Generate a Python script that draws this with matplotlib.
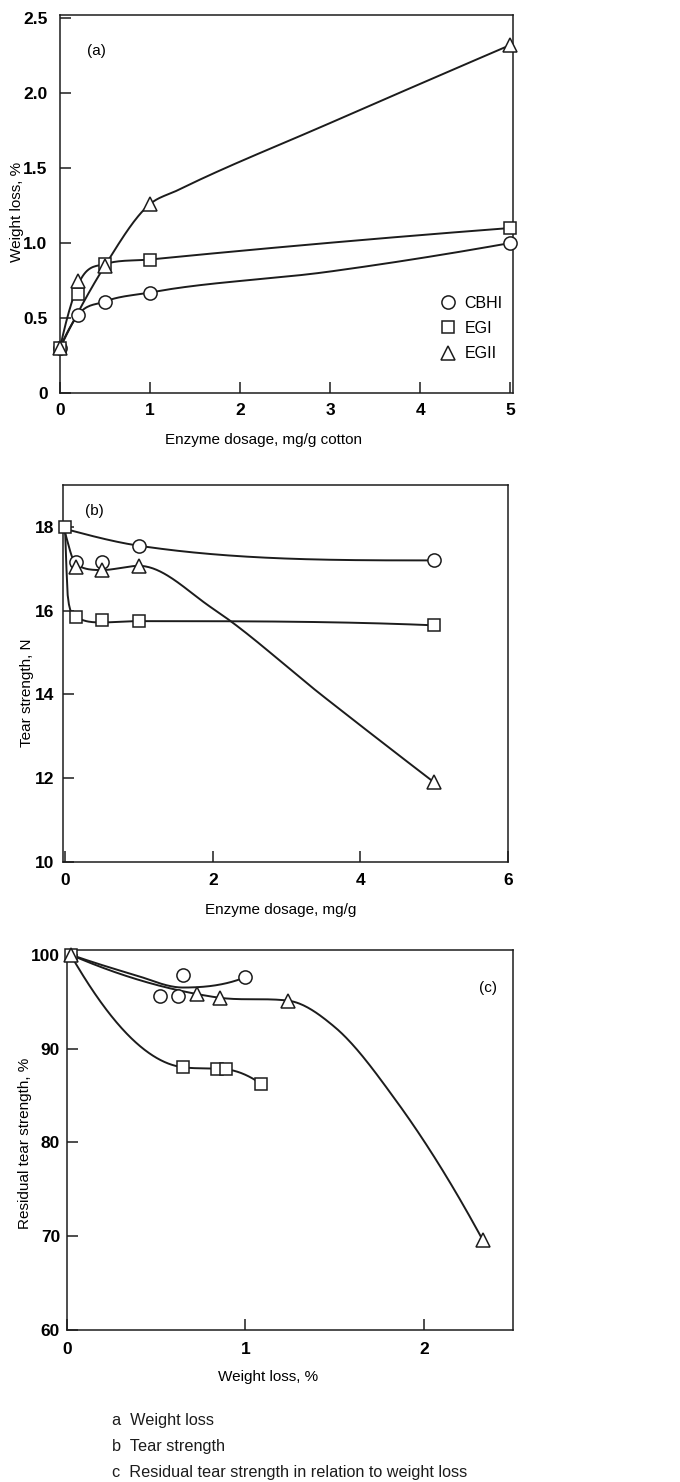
#import used libraries
import numpy as np
from matplotlib import pyplot as plt
from matplotlib.lines import Line2D

plt.rcParams['font.family'] = ['Liberation Sans', 'DejaVu Sans']

#(a) weight loss against enzyme dosage, markers
dose_a = [0, 0.2, 0.5, 1, 5]
wl_cbhi = [0.30, 0.52, 0.61, 0.67, 1.00]
wl_egi = [0.30, 0.66, 0.86, 0.89, 1.10]
wl_egii = [0.30, 0.75, 0.85, 1.26, 2.32]
#(a) points the drawn curves go through
a_cbhi_line_x = [0, 0.2, 0.5, 1, 3, 5]
a_cbhi_line_y = [0.30, 0.52, 0.61, 0.67, 0.81, 1.00]
a_egi_line_x = [0, 0.2, 0.5, 1, 5]
a_egi_line_y = [0.30, 0.72, 0.86, 0.89, 1.10]
a_egii_line_x = [0, 0.5, 1, 1.3, 3, 5]
a_egii_line_y = [0.30, 0.85, 1.26, 1.35, 1.80, 2.32]

#(b) tear strength against enzyme dosage, markers
b_cbhi_x = [0.15, 0.5, 1, 5]
b_cbhi_y = [17.15, 17.15, 17.55, 17.2]
b_egi_x = [0, 0.15, 0.5, 1, 5]
b_egi_y = [18.0, 15.85, 15.78, 15.75, 15.65]
b_egii_x = [0.15, 0.5, 1, 5]
b_egii_y = [17.05, 16.97, 17.07, 11.9]
#(b) curves
b_cbhi_line_x = [0, 1, 5]
b_cbhi_line_y = [17.95, 17.55, 17.2]
b_egi_line_x = [0, 0.04, 0.15, 0.5, 1, 5]
b_egi_line_y = [17.85, 16.25, 15.85, 15.72, 15.75, 15.65]
b_egii_line_x = [0, 0.15, 0.5, 1, 2, 3.5, 5]
b_egii_line_y = [17.85, 17.1, 16.97, 17.07, 16.05, 13.95, 11.9]

#(c) residual tear strength against weight loss, markers
c_cbhi_x = [0.52, 0.62, 0.65, 1.0]
c_cbhi_y = [95.6, 95.6, 97.8, 97.6]
c_egi_x = [0.02, 0.65, 0.84, 0.89, 1.09]
c_egi_y = [100, 88.0, 87.8, 87.8, 86.2]
c_egii_x = [0.02, 0.73, 0.86, 1.24, 2.33]
c_egii_y = [100, 95.8, 95.4, 95.1, 69.6]
#(c) curves
c_cbhi_line_x = [0.02, 0.37, 0.65, 1.0]
c_cbhi_line_y = [100, 97.9, 96.5, 97.6]
c_egi_line_x = [0.02, 0.65, 0.84, 0.89, 1.09]
c_egi_line_y = [100, 88.0, 87.85, 87.8, 86.2]
c_egii_line_x = [0.02, 0.73, 0.86, 1.24, 1.5, 1.85, 2.33]
c_egii_line_y = [100, 95.8, 95.4, 95.1, 92.3, 84.3, 69.6]

enzymes = ['CBHI', 'EGI', 'EGII']
captions = ['a  Weight loss', 'b  Tear strength',
            'c  Residual tear strength in relation to weight loss']

INK = '#1c1c1c'
MARK = {'CBHI': ('o', 9.5), 'EGI': ('s', 9.0), 'EGII': ('^', 10.5)}
LABEL_SIZE = 11


#smooth cubic curve through the given points (parabolic slopes, kept monotone)
def smooth(x, y, n=300):
    x = np.asarray(x, float)
    y = np.asarray(y, float)
    h = np.diff(x)
    d = np.diff(y) / h
    m = np.zeros_like(y)
    m[0], m[-1] = d[0], d[-1]
    for k in range(1, len(x) - 1):
        if d[k - 1] * d[k] > 0:
            p = (h[k] * d[k - 1] + h[k - 1] * d[k]) / (h[k - 1] + h[k])
            lim = 3 * min(abs(d[k - 1]), abs(d[k]))
            m[k] = np.sign(p) * min(abs(p), lim)
    #end slopes from the first and last three points
    if len(x) > 2:
        for i, (h0, h1, d0, d1) in ((0, (h[0], h[1], d[0], d[1])), (-1, (h[-1], h[-2], d[-1], d[-2]))):
            e = ((2 * h0 + h1) * d0 - h0 * d1) / (h0 + h1)
            if np.sign(e) != np.sign(d0):
                e = 0
            elif abs(e) > abs(3 * d0):
                e = 3 * d0
            m[i] = e
    xs = np.linspace(x[0], x[-1], n)
    k = np.clip(np.searchsorted(x, xs) - 1, 0, len(x) - 2)
    t = (xs - x[k]) / h[k]
    ys = ((2 * t**3 - 3 * t**2 + 1) * y[k] + (t**3 - 2 * t**2 + t) * h[k] * m[k]
          + (-2 * t**3 + 3 * t**2) * y[k + 1] + (t**3 - t**2) * h[k] * m[k + 1])
    return xs, ys


def draw(ax, line_x, line_y, px, py, name):
    xs, ys = smooth(line_x, line_y)
    ax.plot(xs, ys, '-', color=INK, lw=1.4, zorder=2)
    mk, ms = MARK[name]
    ax.plot(px, py, mk, ms=ms, mfc='white', mec=INK, mew=1.1, ls='none', zorder=3, clip_on=False)


def style(ax, xpad, ypad):
    ax.tick_params(direction='in', length=8, width=1.1, labelsize=12.5, color=INK)
    ax.tick_params(axis='x', pad=xpad)
    ax.tick_params(axis='y', pad=ypad)
    for lab in ax.get_xticklabels() + ax.get_yticklabels():
        lab.set_fontweight('bold')
    for sp in ax.spines.values():
        sp.set_linewidth(1.1)
        sp.set_color(INK)


W, H = 680, 1482
fig = plt.figure(figsize=(W / 100, H / 100), dpi=100)


def box(left, top, right, bottom):
    return fig.add_axes([left / W, 1 - bottom / H, (right - left) / W, (bottom - top) / H])


#panel (a)
ax = box(60, 15, 513, 393)
draw(ax, a_cbhi_line_x, a_cbhi_line_y, dose_a, wl_cbhi, 'CBHI')
draw(ax, a_egi_line_x, a_egi_line_y, dose_a, wl_egi, 'EGI')
draw(ax, a_egii_line_x, a_egii_line_y, dose_a, wl_egii, 'EGII')
ax.set_xlim(0, 5.03)
ax.set_ylim(0, 2.52)
ax.set_xticks([0, 1, 2, 3, 4, 5])
ax.set_yticks([0, 0.5, 1.0, 1.5, 2.0, 2.5])
ax.set_yticklabels(['0', '0.5', '1.0', '1.5', '2.0', '2.5'])
style(ax, 7, 9)
ax.set_xlabel('Enzyme dosage, mg/g cotton', fontsize=LABEL_SIZE, va='center')
ax.xaxis.set_label_coords(0.45, -0.125)
ax.set_ylabel('Weight loss, %', fontsize=LABEL_SIZE, va='center')
ax.yaxis.set_label_coords(-0.095, 0.48)
ax.text(0.06, 0.905, '(a)', transform=ax.transAxes, fontsize=LABEL_SIZE, va='center')
handles = [Line2D([], [], marker=MARK[e][0], ms=MARK[e][1], mfc='white', mec=INK, mew=1.1, ls='none')
           for e in enzymes]
ax.legend(handles, enzymes, loc='upper left', bbox_to_anchor=(0.838, 0.257), frameon=False,
          borderpad=0, borderaxespad=0, handlelength=1.0, handletextpad=0.55,
          labelspacing=0.64, fontsize=11.5)

#panel (b)
ax = box(63, 485, 508, 862)
draw(ax, b_cbhi_line_x, b_cbhi_line_y, b_cbhi_x, b_cbhi_y, 'CBHI')
draw(ax, b_egii_line_x, b_egii_line_y, b_egii_x, b_egii_y, 'EGII')
draw(ax, b_egi_line_x, b_egi_line_y, b_egi_x, b_egi_y, 'EGI')
ax.set_xlim(-0.03, 6)
ax.set_ylim(10, 19)
ax.set_xticks([0, 2, 4, 6])
ax.set_yticks([10, 12, 14, 16, 18])
style(ax, 8, 6)
ax.set_xlabel('Enzyme dosage, mg/g', fontsize=LABEL_SIZE, va='center')
ax.xaxis.set_label_coords(0.49, -0.128)
ax.set_ylabel('Tear strength, N', fontsize=LABEL_SIZE, va='center')
ax.yaxis.set_label_coords(-0.08, 0.45)
ax.text(0.05, 0.93, '(b)', transform=ax.transAxes, fontsize=LABEL_SIZE, va='center')

#panel (c)
ax = box(67, 950, 513, 1330)
draw(ax, c_cbhi_line_x, c_cbhi_line_y, c_cbhi_x, c_cbhi_y, 'CBHI')
draw(ax, c_egi_line_x, c_egi_line_y, c_egi_x, c_egi_y, 'EGI')
draw(ax, c_egii_line_x, c_egii_line_y, c_egii_x, c_egii_y, 'EGII')
ax.set_xlim(0, 2.5)
ax.set_ylim(60, 100.5)
ax.set_xticks([0, 1, 2])
ax.set_yticks([60, 70, 80, 90, 100])
style(ax, 9, 5)
ax.set_xlabel('Weight loss, %', fontsize=LABEL_SIZE, va='center')
ax.xaxis.set_label_coords(0.45, -0.124)
ax.set_ylabel('Residual tear strength, %', fontsize=LABEL_SIZE, va='center')
ax.yaxis.set_label_coords(-0.094, 0.49)
ax.text(0.964, 0.9, '(c)', transform=ax.transAxes, fontsize=LABEL_SIZE, va='center', ha='right')

#captions under the figure
for i, cap in enumerate(captions):
    fig.text(112 / W, 1 - (1421 + 26 * i) / H, cap, fontsize=11.7, va='center', color=INK)

plt.savefig('out.png', dpi=100)
plt.close()
